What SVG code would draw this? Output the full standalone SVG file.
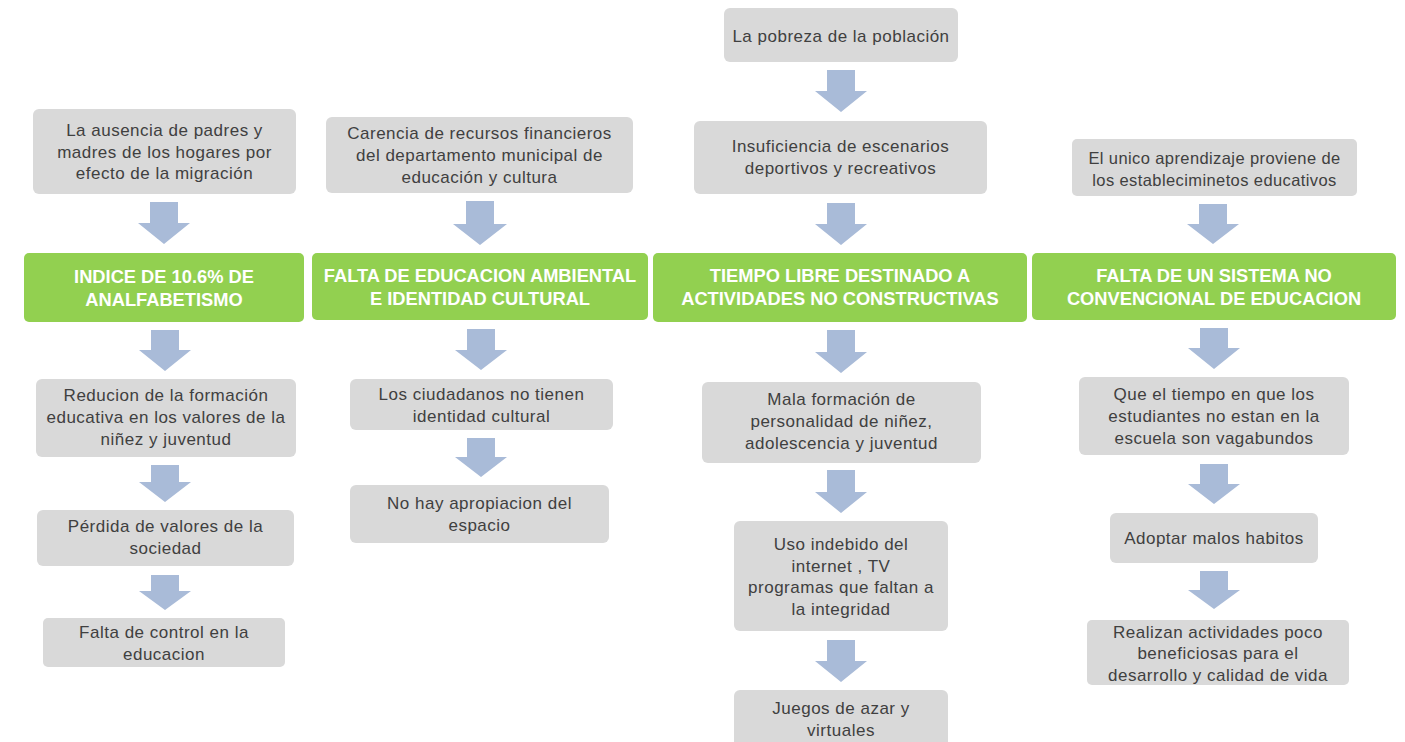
<svg xmlns="http://www.w3.org/2000/svg" width="1405" height="742" viewBox="0 0 1405 742">
<style>
.box{fill:#D9D9D9}
.hdr{fill:#92D050}
.arr{fill:#A9BBD8}
.t{font-family:"Liberation Sans",Arial,sans-serif;font-size:17px;letter-spacing:0.5px;fill:#404040;text-anchor:middle;dominant-baseline:central}
.s{font-size:16.5px;letter-spacing:0.4px}
.h{font-family:"Liberation Sans",Arial,sans-serif;font-size:18.3px;font-weight:bold;fill:#FFFFFF;text-anchor:middle;dominant-baseline:central}
</style>
<rect width="1405" height="742" fill="#FFFFFF"/>
<g id="connectors">
<polygon class="arr" points="150,202 178,202 178,223 190,223 164,244 138,223 150,223"/>
<polygon class="arr" points="466,201 494,201 494,224 507,224 480,245 453,224 466,224"/>
<polygon class="arr" points="827,70 855,70 855,91 867,91 841,112 815,91 827,91"/>
<polygon class="arr" points="827,203 855,203 855,224 867,224 841,245 815,224 827,224"/>
<polygon class="arr" points="1199,204 1227,204 1227,224 1239,224 1213,244 1187,224 1199,224"/>
<polygon class="arr" points="151,330 179,330 179,350 191,350 165,371 139,350 151,350"/>
<polygon class="arr" points="151,465 179,465 179,482 191,482 165,502 139,482 151,482"/>
<polygon class="arr" points="151,575 179,575 179,591 191,591 165,610 139,591 151,591"/>
<polygon class="arr" points="467,329 495,329 495,350 507,350 481,370 455,350 467,350"/>
<polygon class="arr" points="467,438 495,438 495,457 507,457 481,477 455,457 467,457"/>
<polygon class="arr" points="827,330 855,330 855,352 867,352 841,373 815,352 827,352"/>
<polygon class="arr" points="827,470 855,470 855,492 867,492 841,513 815,492 827,492"/>
<polygon class="arr" points="827,640 855,640 855,661 867,661 841,682 815,661 827,661"/>
<polygon class="arr" points="1200,328 1228,328 1228,348 1240,348 1214,369 1188,348 1200,348"/>
<polygon class="arr" points="1200,464 1228,464 1228,484 1240,484 1214,504 1188,484 1200,484"/>
<polygon class="arr" points="1200,571 1228,571 1228,590 1240,590 1214,609 1188,590 1200,590"/>
</g>
<g id="n1"><rect class="box" x="33" y="109" width="263" height="85" rx="6"/>
<text class="t"><tspan x="164.5" y="130">La ausencia de padres y</tspan><tspan x="164.5" y="151.5">madres de los hogares por</tspan><tspan x="164.5" y="173">efecto de la migración</tspan></text></g>
<g id="n2"><rect class="hdr" x="24" y="253" width="280" height="69" rx="5"/>
<text class="h"><tspan x="164" y="276">INDICE DE  10.6% DE</tspan><tspan x="164" y="299">ANALFABETISMO</tspan></text></g>
<g id="n3"><rect class="box" x="36" y="379" width="260" height="78" rx="6"/>
<text class="t"><tspan x="166" y="395">Reducion de la formación</tspan><tspan x="166" y="417">educativa en los valores de la</tspan><tspan x="166" y="439">niñez y juventud</tspan></text></g>
<g id="n4"><rect class="box" x="37" y="510" width="257" height="56" rx="6"/>
<text class="t"><tspan x="165.5" y="526">Pérdida de valores de la</tspan><tspan x="165.5" y="548">sociedad</tspan></text></g>
<g id="n5"><rect class="box" x="43" y="618" width="242" height="49" rx="5"/>
<text class="t"><tspan x="164" y="632">Falta de control en la</tspan><tspan x="164" y="654">educacion</tspan></text></g>
<g id="n6"><rect class="box" x="326" y="117" width="307" height="76" rx="6"/>
<text class="t"><tspan x="479.5" y="133">Carencia de recursos financieros</tspan><tspan x="479.5" y="155">del departamento municipal de</tspan><tspan x="479.5" y="177">educación y cultura</tspan></text></g>
<g id="n7"><rect class="hdr" x="312" y="253" width="336" height="67" rx="5"/>
<text class="h"><tspan x="480" y="275">FALTA DE  EDUCACION AMBIENTAL</tspan><tspan x="480" y="298">E IDENTIDAD  CULTURAL</tspan></text></g>
<g id="n8"><rect class="box" x="350" y="379" width="263" height="51" rx="6"/>
<text class="t"><tspan x="481.5" y="394">Los ciudadanos no tienen</tspan><tspan x="481.5" y="416">identidad cultural</tspan></text></g>
<g id="n9"><rect class="box" x="350" y="485" width="259" height="58" rx="6"/>
<text class="t"><tspan x="479.5" y="503">No hay apropiacion del</tspan><tspan x="479.5" y="525">espacio</tspan></text></g>
<g id="n10"><rect class="box" x="724" y="8" width="234" height="54" rx="6"/>
<text class="t"><tspan x="841" y="36">La pobreza de la población</tspan></text></g>
<g id="n11"><rect class="box" x="694" y="121" width="293" height="73" rx="6"/>
<text class="t"><tspan x="840.5" y="146">Insuficiencia de escenarios</tspan><tspan x="840.5" y="168">deportivos y recreativos</tspan></text></g>
<g id="n12"><rect class="hdr" x="653" y="253" width="374" height="69" rx="5"/>
<text class="h"><tspan x="840" y="275">TIEMPO  LIBRE DESTINADO A</tspan><tspan x="840" y="298">ACTIVIDADES NO CONSTRUCTIVAS</tspan></text></g>
<g id="n13"><rect class="box" x="702" y="382" width="279" height="81" rx="6"/>
<text class="t"><tspan x="841.5" y="399">Mala formación de</tspan><tspan x="841.5" y="421">personalidad de niñez,</tspan><tspan x="841.5" y="443">adolescencia y juventud</tspan></text></g>
<g id="n14"><rect class="box" x="734" y="521" width="214" height="110" rx="6"/>
<text class="t"><tspan x="841" y="544">Uso indebido del</tspan><tspan x="841" y="566">internet , TV</tspan><tspan x="841" y="587">programas que faltan a</tspan><tspan x="841" y="609">la integridad</tspan></text></g>
<g id="n15"><rect class="box" x="734" y="690" width="214" height="70" rx="6"/>
<text class="t"><tspan x="841" y="708">Juegos de azar y</tspan><tspan x="841" y="730">virtuales</tspan></text></g>
<g id="n16"><rect class="box" x="1072" y="139" width="285" height="57" rx="5"/>
<text class="t s"><tspan x="1214.5" y="158">El unico aprendizaje proviene de</tspan><tspan x="1214.5" y="180">los estableciminetos educativos</tspan></text></g>
<g id="n17"><rect class="hdr" x="1032" y="253" width="364" height="67" rx="5"/>
<text class="h"><tspan x="1214" y="275">FALTA DE  UN SISTEMA  NO</tspan><tspan x="1214" y="298">CONVENCIONAL DE EDUCACION</tspan></text></g>
<g id="n18"><rect class="box" x="1079" y="377" width="270" height="78" rx="6"/>
<text class="t"><tspan x="1214" y="394">Que el tiempo en que los</tspan><tspan x="1214" y="416">estudiantes no estan en la</tspan><tspan x="1214" y="438">escuela son vagabundos</tspan></text></g>
<g id="n19"><rect class="box" x="1110" y="513" width="208" height="50" rx="6"/>
<text class="t"><tspan x="1214" y="538">Adoptar malos habitos</tspan></text></g>
<g id="n20"><rect class="box" x="1087" y="620" width="262" height="65" rx="5"/>
<text class="t"><tspan x="1218" y="632">Realizan actividades poco</tspan><tspan x="1218" y="653">beneficiosas para el</tspan><tspan x="1218" y="675">desarrollo y calidad de vida</tspan></text></g>
</svg>
